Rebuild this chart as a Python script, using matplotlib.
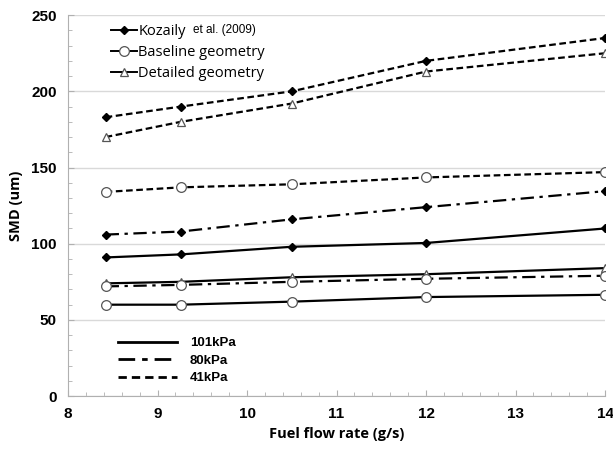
#!/usr/bin/env python3
"""SMD vs fuel flow rate: Kozaily et al. vs baseline / detailed geometry."""
import matplotlib
matplotlib.use('Agg')
import matplotlib.pyplot as plt
from matplotlib.lines import Line2D
from matplotlib.ticker import MultipleLocator

flow = [8.42, 9.26, 10.5, 12.0, 14.0]

koz_41 = [183, 190, 200, 220, 235]
det_41 = [170, 180, 192, 213, 225]
base_41 = [134, 137, 139, 143.5, 147]
koz_80 = [106, 108, 116, 124, 134.5]
koz_101 = [91, 93, 98, 100.5, 110]
det_101 = [74, 75, 78, 80, 84]
base_80 = [72, 73, 75, 77, 79]
base_101 = [60, 60, 62, 65, 66.5]

DASH = (0, (3, 1.6))
DASHDOT = (0, (6, 2.5, 1.5, 2.5))

mk = {
    'koz': dict(marker='D', ms=4.5, mfc='black', mec='black'),
    'base': dict(marker='o', ms=7, mfc='white', mec='#555555', mew=0.9),
    'det': dict(marker='^', ms=6, mfc='white', mec='#555555', mew=0.9),
}

plt.rcParams['font.family'] = ['Liberation Sans', 'DejaVu Sans']
fig = plt.figure(figsize=(6.13, 4.59), dpi=100)
ax = fig.add_axes([0.111, 0.137, 0.876, 0.83])

series = [
    (koz_41, 'koz', DASH), (det_41, 'det', DASH), (base_41, 'base', DASH),
    (koz_80, 'koz', DASHDOT), (koz_101, 'koz', '-'), (det_101, 'det', '-'),
    (base_80, 'base', DASHDOT), (base_101, 'base', '-'),
]
for vals, kind, ls in series:
    ax.plot(flow, vals, color='black', lw=1.6, ls=ls, zorder=3, **mk[kind])

ax.set_xlim(8, 14)
ax.set_ylim(0, 250)
ax.xaxis.set_major_locator(MultipleLocator(1))
ax.xaxis.set_minor_locator(MultipleLocator(0.2))
ax.yaxis.set_major_locator(MultipleLocator(50))
ax.yaxis.set_minor_locator(MultipleLocator(10))
ax.grid(axis='y', which='major', color='#d9d9d9', lw=1)
for s in ['top', 'right']:
    ax.spines[s].set_visible(False)
for s in ['left', 'bottom']:
    ax.spines[s].set_color('#b0b0b0')
ax.tick_params(which='both', direction='in', color='#b0b0b0', length=3)
ax.tick_params(which='major', length=4, labelsize=11, pad=8)
for lab in ax.get_xticklabels() + ax.get_yticklabels():
    lab.set_fontweight('bold')
ax.set_xlabel('Fuel flow rate (g/s)', fontsize=10.5, fontweight='bold', family='Open Sans', labelpad=4)
ax.set_ylabel('SMD (um)', fontsize=10.5, fontweight='bold', family='Open Sans', labelpad=6)

# marker legend
h1 = [Line2D([], [], color='black', lw=1.4, **mk[k]) for k in ['koz', 'base', 'det']]
leg1 = ax.legend(h1, ['Kozaily', 'Baseline geometry', 'Detailed geometry'],
                 loc='upper left', bbox_to_anchor=(0.055, 1.012), frameon=False,
                 handlelength=1.8, handletextpad=0.1, labelspacing=0.42,
                 prop={'family': 'Open Sans', 'size': 10.5})
ax.add_artist(leg1)
ax.text(0.233, 0.962, 'et al. (2009)', transform=ax.transAxes, fontsize=8.5, va='center')

# pressure legend
h2 = [Line2D([], [], color='black', lw=2, ls=ls) for ls in ['-', (0, (6, 2.5, 2, 2.5)), (0, (3, 1.8))]]
ax.legend(h2, ['101kPa', '80kPa', '41kPa'], loc='lower left', bbox_to_anchor=(0.07, 0.0),
          frameon=False, handlelength=4.5, handletextpad=1, labelspacing=0.4,
          prop={'weight': 'bold', 'size': 9.5})

fig.savefig('out.png', dpi=100)
plt.close()
